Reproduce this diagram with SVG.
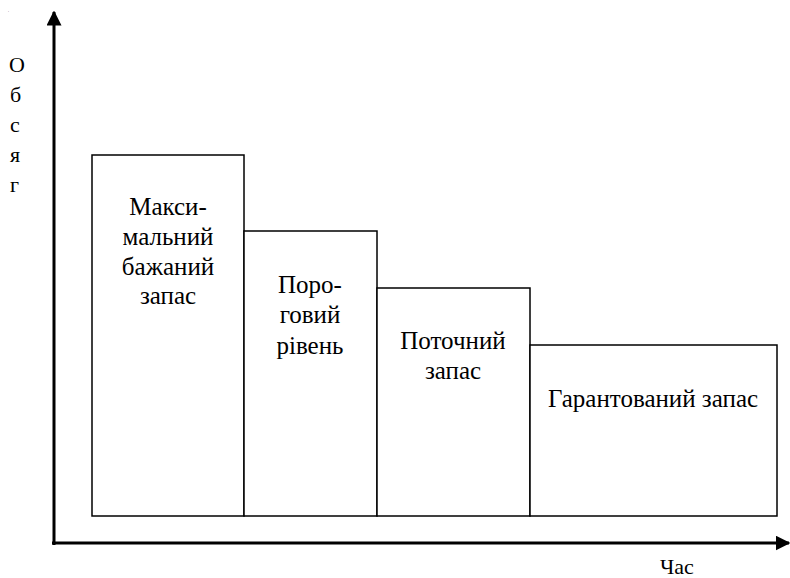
<svg xmlns="http://www.w3.org/2000/svg" width="790" height="578" viewBox="0 0 790 578">
  <defs>
    <marker id="arrow" viewBox="0 0 10 10" refX="9" refY="5" markerWidth="5" markerHeight="5" orient="auto" markerUnits="strokeWidth">
      <path d="M0,0 L10,5 L0,10 z" fill="#000"/>
    </marker>
  </defs>

  <rect width="790" height="578" fill="#fff"/>
  <text x="8" y="12" font-size="4" font-family="Times New Roman, serif">.</text>

  <!-- axes -->
  <g id="connectors" fill="none" stroke="#000" stroke-width="3">
    <line x1="54" y1="545" x2="54" y2="12" marker-end="url(#arrow)"/>
    <line x1="52" y1="543" x2="789" y2="543" marker-end="url(#arrow)"/>
  </g>

  <!-- vertical axis label -->
  <g id="y-label" font-family="Times New Roman, Liberation Serif, serif" font-size="22">
    <text x="9" y="72">О</text>
    <text x="10" y="102">б</text>
    <text x="10" y="132">с</text>
    <text x="10" y="162">я</text>
    <text x="10" y="192">г</text>
  </g>

  <g id="x-label" font-family="Times New Roman, Liberation Serif, serif" font-size="22">
    <text x="660" y="574">Час</text>
  </g>

  <g id="max-stock" font-family="Times New Roman, Liberation Serif, serif" font-size="25" text-anchor="middle">
    <rect x="92" y="155" width="152" height="361" fill="#fff" stroke="#000" stroke-width="1.5"/>
    <text x="168" y="215">Макси-</text>
    <text x="168" y="245">мальний</text>
    <text x="168" y="275">бажаний</text>
    <text x="168" y="304">запас</text>
  </g>

  <g id="threshold" font-family="Times New Roman, Liberation Serif, serif" font-size="25" text-anchor="middle">
    <rect x="244" y="231" width="133" height="285" fill="#fff" stroke="#000" stroke-width="1.5"/>
    <text x="310" y="293">Поро-</text>
    <text x="310" y="323">говий</text>
    <text x="310" y="354">рівень</text>
  </g>

  <g id="current-stock" font-family="Times New Roman, Liberation Serif, serif" font-size="25" text-anchor="middle">
    <rect x="377" y="288" width="153" height="228" fill="#fff" stroke="#000" stroke-width="1.5"/>
    <text x="453" y="349">Поточний</text>
    <text x="453" y="379">запас</text>
  </g>

  <g id="safety-stock" font-family="Times New Roman, Liberation Serif, serif" font-size="25" text-anchor="middle">
    <rect x="530" y="345" width="247" height="171" fill="#fff" stroke="#000" stroke-width="1.5"/>
    <text x="653" y="407">Гарантований запас</text>
  </g>
</svg>
